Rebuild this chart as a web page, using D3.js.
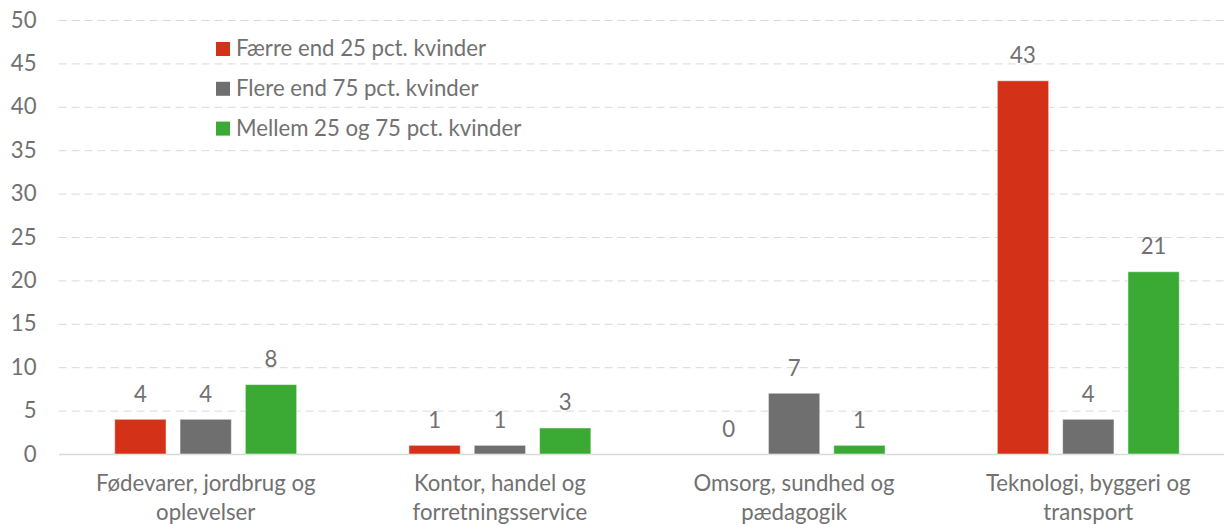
<!DOCTYPE html>
<html>
<head>
<meta charset="utf-8">
<script src="https://cdn.jsdelivr.net/npm/d3@7"></script>
<style>
  body { margin: 0; background: #fff; }
  svg text { font-family: Lato, "Open Sans", sans-serif; fill: #717171; }
</style>
</head>
<body>
<svg id="chart"></svg>
<script>
const categoryLines = [
    ["Fødevarer, jordbrug og", "oplevelser"],
    ["Kontor, handel og", "forretningsservice"],
    ["Omsorg, sundhed og", "pædagogik"],
    ["Teknologi, byggeri og", "transport"]
];
const categories = categoryLines.map(d => d.join(" "));
const seriesNames = ["Færre end 25 pct. kvinder", "Flere end 75 pct. kvinder", "Mellem 25 og 75 pct. kvinder"];
const faerre = [4, 1, 0, 43];
const flere = [4, 1, 7, 4];
const mellem = [8, 3, 1, 21];
const yTicks = [0, 5, 10, 15, 20, 25, 30, 35, 40, 45, 50];
const colors = ["#d33118", "#6f6f6f", "#3aaa35"];

const width = 1224, height = 525;
const margin = {top: 20, left: 58.6, bottom: 71};
const plotRight = 1235.4;
const fontSize = 22.2;

const svg = d3.select("#chart")
    .attr("width", width)
    .attr("height", height);

const seriesValues = [faerre, flere, mellem];
const data = categories.map((c, i) => ({
    category: c,
    values: seriesNames.map((s, j) => ({series: s, value: seriesValues[j][i]}))
}));

const x0 = d3.scaleBand()
    .domain(categories)
    .range([margin.left, plotRight])
    .paddingInner(0.334)
    .paddingOuter(0.167);

const x1 = d3.scaleBand()
    .domain(seriesNames)
    .range([0, x0.bandwidth()])
    .paddingInner(0.214)
    .paddingOuter(0.107);

const y = d3.scaleLinear()
    .domain([0, 50])
    .range([height - margin.bottom, margin.top]);

const color = d3.scaleOrdinal().domain(seriesNames).range(colors);

// gridlines + y tick labels
const yAxis = d3.axisLeft(y)
    .tickValues(yTicks)
    .tickSize(-(plotRight - margin.left))
    .tickPadding(22);

const yg = svg.append("g")
    .attr("transform", `translate(${margin.left},0)`)
    .call(yAxis);
yg.select(".domain").remove();
yg.selectAll(".tick line")
    .attr("stroke", "#d9d9d9")
    .attr("stroke-width", 1)
    .attr("stroke-dasharray", "8,5")
    .filter(d => d === 0).remove();
yg.selectAll(".tick text")
    .attr("font-size", fontSize)
    .attr("font-family", null)
    .attr("fill", "#717171");

// x axis line + category labels
const xAxis = d3.axisBottom(x0).tickSize(0).tickFormat("");
const xg = svg.append("g")
    .attr("transform", `translate(0,${y(0)})`)
    .call(xAxis);
xg.select(".domain")
    .attr("stroke", "#d9d9d9")
    .attr("stroke-width", 1.5);
xg.selectAll(".tick text").remove();

const labels = svg.append("g").selectAll("text")
    .data(categoryLines)
    .join("text")
    .attr("text-anchor", "middle")
    .attr("font-size", fontSize)
    .attr("x", (d, i) => x0(categories[i]) + x0.bandwidth() / 2);
labels.selectAll("tspan")
    .data(d => d)
    .join("tspan")
    .attr("x", function() { return this.parentNode.getAttribute("x"); })
    .attr("y", (d, i) => y(0) + 37 + i * 29)
    .text(d => d);

// bars
const groups = svg.append("g").selectAll("g")
    .data(data)
    .join("g")
    .attr("transform", d => `translate(${x0(d.category)},0)`);

groups.selectAll("rect")
    .data(d => d.values)
    .join("rect")
    .attr("x", d => x1(d.series))
    .attr("y", d => y(d.value))
    .attr("width", x1.bandwidth())
    .attr("height", d => y(0) - y(d.value))
    .attr("fill", d => color(d.series))
    .attr("stroke", "#ffffff")
    .attr("stroke-opacity", 0.5)
    .attr("stroke-width", 1);

groups.selectAll("text")
    .data(d => d.values)
    .join("text")
    .attr("text-anchor", "middle")
    .attr("font-size", fontSize)
    .attr("x", d => x1(d.series) + x1.bandwidth() / 2)
    .attr("y", d => y(d.value) - 17.5)
    .text(d => d.value);

// legend
const legend = svg.append("g")
    .attr("transform", "translate(216,42)");
const items = legend.selectAll("g")
    .data(seriesNames)
    .join("g")
    .attr("transform", (d, i) => `translate(0,${i * 39.8})`);
items.append("rect")
    .attr("width", 14)
    .attr("height", 14)
    .attr("fill", d => color(d));
items.append("text")
    .attr("x", 20)
    .attr("y", 14)
    .attr("font-size", fontSize)
    .text(d => d);
</script>
</body>
</html>
